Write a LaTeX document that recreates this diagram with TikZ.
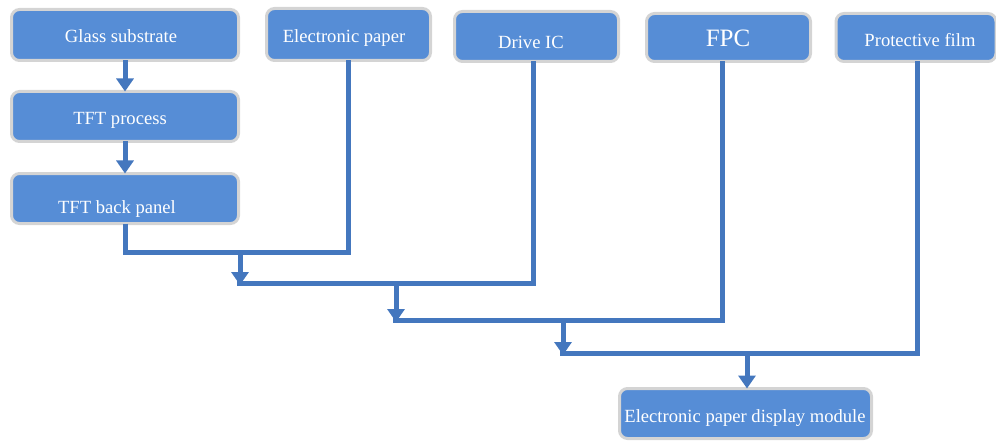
\documentclass[tikz,border=0pt]{standalone}
\usepackage{fontspec}
\setmainfont{Liberation Serif}
\usetikzlibrary{arrows.meta}

\definecolor{boxblue}{RGB}{86,141,214}
\definecolor{rimgray}{RGB}{212,212,212}
\definecolor{flowblue}{RGB}{68,119,190}

\tikzset{
  stage/.style={rectangle, rounded corners=8pt, fill=boxblue, draw=rimgray,
    line width=3pt, inner sep=0pt, outer sep=0pt},
  lbl/.style={anchor=base, text=white, font=\fontsize{18.6}{20}\selectfont, inner sep=0pt},
  flow/.style={draw=flowblue, line width=5pt, line join=miter},
  flowarrow/.style={flow, -{Triangle[width=17pt,length=13pt]}},
}

\begin{document}
\begin{tikzpicture}[x=1pt, y=-1pt]
  \useasboundingbox (0,0) rectangle (996,441);

  % process stages
  \node[stage, minimum width=227pt, minimum height=51pt] (gs)  at (125,35)    {};
  \node[stage, minimum width=227pt, minimum height=50pt] (tp)  at (125,116.5) {};
  \node[stage, minimum width=227pt, minimum height=50pt] (tbp) at (125,198.5) {};
  \node[stage, minimum width=164pt, minimum height=52pt] (ep)  at (348.5,34.5) {};
  \node[stage, minimum width=164pt, minimum height=50pt] (dic) at (536.5,36.5) {};
  \node[stage, minimum width=164pt, minimum height=48pt] (fpc) at (728.5,37.5) {};
  \node[stage, minimum width=160pt, minimum height=48pt] (pf)  at (916,37.5)  {};
  \node[stage, minimum width=252pt, minimum height=50pt] (mod) at (745.5,413.5) {};

  % stage captions
  \node[lbl] (gs-t)  at (121,43)  {Glass substrate};
  \node[lbl] (tp-t)  at (120,125) {TFT process};
  \node[lbl] (tbp-t) at (117,213) {TFT back panel};
  \node[lbl] (ep-t)  at (344,42.5) {Electronic paper};
  \node[lbl] (dic-t) at (531,49)  {Drive IC};
  \node[lbl, font=\fontsize{25}{27}\selectfont] (fpc-t) at (728,47) {FPC};
  \node[lbl] (pf-t)  at (920,47)  {Protective film};
  \node[lbl] (mod-t) at (745,422) {Electronic paper display module};

  % junction points of the assembly line
  \coordinate (j1)  at (125,252);
  \coordinate (a1s) at (240,252);
  \coordinate (a1e) at (240,285);
  \coordinate (j2)  at (237,283);
  \coordinate (a2s) at (396,283);
  \coordinate (a2e) at (396,322);
  \coordinate (j3)  at (393,320);
  \coordinate (a3s) at (563,320);
  \coordinate (a3e) at (563,355);
  \coordinate (j4)  at (560,353);
  \coordinate (a4s) at (747,353);

  % backplane build-up
  \draw[flowarrow] (gs.south) -- (tp.north);
  \draw[flowarrow] (tp.south) -- (tbp.north);

  % lamination steps
  \draw[flow] (tbp.south) -- (j1) -| (ep.south);
  \draw[flowarrow] (a1s) -- (a1e);
  \draw[flow] (j2) -| ([xshift=-3.5pt]dic.south);
  \draw[flowarrow] (a2s) -- (a2e);
  \draw[flow] (j3) -| ([xshift=-6.5pt]fpc.south);
  \draw[flowarrow] (a3s) -- (a3e);
  \draw[flow] (j4) -| ([xshift=1pt]pf.south);
  \draw[flowarrow] (a4s) -- ([xshift=1.5pt]mod.north);
\end{tikzpicture}
\end{document}
